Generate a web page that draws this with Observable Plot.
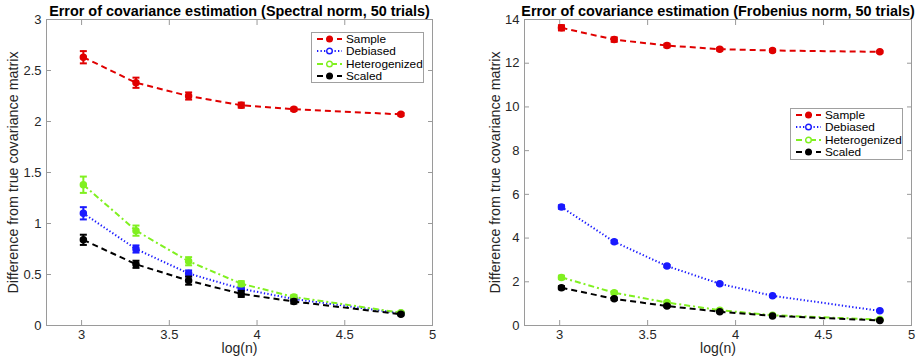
<!DOCTYPE html>
<html>
<head>
<meta charset="utf-8">
<script src="https://cdn.jsdelivr.net/npm/d3@7"></script>
<script src="https://cdn.jsdelivr.net/npm/@observablehq/plot@0.6"></script>
<style>
  html, body { margin: 0; padding: 0; background: #fff; }
  #wrap { position: relative; width: 918px; height: 364px; font-family: "Liberation Sans", Arial, Helvetica, sans-serif; }
  .panel { position: absolute; top: 0; }
  .legend { position: absolute; background: #fff; border: 1px solid #a0a0a0; box-sizing: border-box; padding: 0 0 0 4px; font-size: 11.8px; color: #000; }
  .legend .row { display: flex; align-items: center; height: 12.3px; line-height: 12.3px; white-space: nowrap; }
  .legend svg { width: 27px; height: 12px; margin-right: 3px; flex: none; }
</style>
</head>
<body>
<div id="wrap"></div>
<script>
// ---------- data ----------
const seriesNames = ["Sample", "Debiased", "Heterogenized", "Scaled"];
const logN = [3.01, 3.31, 3.61, 3.91, 4.21, 4.82];
const xTicks = [3, 3.5, 4, 4.5, 5];

// Spectral norm
const spectralSample = [2.63, 2.38, 2.25, 2.16, 2.12, 2.07];
const spectralSampleErr = [0.06, 0.05, 0.035, 0.025, 0.015, 0.012];
const spectralDebiased = [1.10, 0.75, 0.51, 0.36, 0.26, 0.12];
const spectralDebiasedErr = [0.06, 0.035, 0.03, 0.02, 0.015, 0.01];
const spectralHeterogenized = [1.38, 0.93, 0.63, 0.41, 0.28, 0.125];
const spectralHeterogenizedErr = [0.08, 0.05, 0.04, 0.025, 0.02, 0.01];
const spectralScaled = [0.84, 0.60, 0.44, 0.31, 0.235, 0.11];
const spectralScaledErr = [0.05, 0.035, 0.04, 0.03, 0.02, 0.01];
const spectralTicks = [0, 0.5, 1, 1.5, 2, 2.5, 3];

// Frobenius norm
const frobSample = [13.62, 13.08, 12.81, 12.64, 12.58, 12.52];
const frobSampleErr = [0.12, 0.1, 0.08, 0.06, 0.05, 0.04];
const frobDebiased = [5.42, 3.83, 2.72, 1.91, 1.36, 0.67];
const frobDebiasedErr = [0.08, 0.06, 0.05, 0.04, 0.03, 0.02];
const frobHeterogenized = [2.20, 1.50, 1.05, 0.70, 0.47, 0.27];
const frobHeterogenizedErr = [0.08, 0.06, 0.05, 0.04, 0.03, 0.02];
const frobScaled = [1.73, 1.22, 0.89, 0.63, 0.44, 0.23];
const frobScaledErr = [0.07, 0.05, 0.04, 0.03, 0.03, 0.02];
const frobTicks = [0, 2, 4, 6, 8, 10, 12, 14];

// ---------- styles ----------
const styles = {
  Sample:        {color: "#e00000", dash: "6,4",     ring: false},
  Debiased:      {color: "#1a1aff", dash: "1.3,2.2", ring: true},
  Heterogenized: {color: "#80f020", dash: "6,3,2,3", ring: true},
  Scaled:        {color: "#000000", dash: "6,4",     ring: false}
};
const FONT = '"Liberation Sans", Arial, Helvetica, sans-serif';

function rows(values, errs) {
  return logN.map((x, i) => ({x, y: values[i], e: errs[i]}));
}

const capSymbol = {
  draw(ctx, size) {
    const r = Math.sqrt(size / Math.PI);
    ctx.moveTo(-r, 0);
    ctx.lineTo(r, 0);
  }
};

function panel({title, yDomain, yTicks, series, width, marginLeft, marginRight, ylabelDx}) {
  const marks = [Plot.frame({stroke: "#9a9a9a"})];
  // tick labels
  marks.push(Plot.axisX({ticks: xTicks, tickSize: 0, tickPadding: 4, tickFormat: d => String(d), label: null, color: "#262626", fontSize: 13}));
  marks.push(Plot.axisY({ticks: yTicks, tickSize: 0, tickPadding: 5, tickFormat: d => String(d), label: null, color: "#262626", fontSize: 13}));
  // inward ticks on all four sides
  marks.push(Plot.axisX({ticks: xTicks, anchor: "bottom", tickSize: -5, tickFormat: () => "", label: null, color: "#9a9a9a"}));
  marks.push(Plot.axisX({ticks: xTicks, anchor: "top", tickSize: -5, tickFormat: () => "", label: null, color: "#9a9a9a"}));
  marks.push(Plot.axisY({ticks: yTicks, anchor: "left", tickSize: -5, tickFormat: () => "", label: null, color: "#9a9a9a"}));
  marks.push(Plot.axisY({ticks: yTicks, anchor: "right", tickSize: -5, tickFormat: () => "", label: null, color: "#9a9a9a"}));

  for (const s of series) {
    const st = styles[s.name];
    marks.push(Plot.line(s.data, {x: "x", y: "y", stroke: st.color, strokeWidth: 2, strokeDasharray: st.dash, strokeLinecap: "butt"}));
    marks.push(Plot.ruleX(s.data, {x: "x", y1: d => d.y - d.e, y2: d => d.y + d.e, stroke: st.color, strokeWidth: 2}));
    marks.push(Plot.dot(s.data, {x: "x", y: d => d.y + d.e, symbol: capSymbol, r: 3.5, stroke: st.color, strokeWidth: 2}));
    marks.push(Plot.dot(s.data, {x: "x", y: d => d.y - d.e, symbol: capSymbol, r: 3.5, stroke: st.color, strokeWidth: 2}));
    marks.push(Plot.dot(s.data, {x: "x", y: "y", r: 3, stroke: st.color, strokeWidth: 1.5, fill: st.color}));
  }

  marks.push(Plot.text([title], {frameAnchor: "top", dy: -8, lineAnchor: "middle", textAnchor: "middle", fontWeight: "bold", fontSize: 14.4, fill: "#000"}));
  marks.push(Plot.text(["Difference from true covariance matrix"], {frameAnchor: "left", rotate: -90, dx: ylabelDx, lineAnchor: "middle", textAnchor: "middle", fontSize: 14.3, fill: "#262626"}));
  marks.push(Plot.text(["log(n)"], {frameAnchor: "bottom", dy: 23, lineAnchor: "middle", textAnchor: "middle", fontSize: 14, fill: "#262626"}));

  return Plot.plot({
    width, height: 364,
    marginLeft, marginRight, marginTop: 19, marginBottom: 39,
    style: {fontFamily: FONT, fontSize: "13px", background: "white", overflow: "visible"},
    x: {domain: [2.8, 5]},
    y: {domain: yDomain},
    marks
  });
}

const wrap = document.getElementById("wrap");

const left = panel({
  title: "Error of covariance estimation (Spectral norm, 50 trials)",
  yDomain: [0, 3], yTicks: spectralTicks,
  width: 459, marginLeft: 46, marginRight: 27, ylabelDx: -33,
  series: [
    {name: "Sample", data: rows(spectralSample, spectralSampleErr)},
    {name: "Debiased", data: rows(spectralDebiased, spectralDebiasedErr)},
    {name: "Heterogenized", data: rows(spectralHeterogenized, spectralHeterogenizedErr)},
    {name: "Scaled", data: rows(spectralScaled, spectralScaledErr)}
  ]
});
left.classList.add("panel");
left.style.left = "0px";
wrap.appendChild(left);

const right = panel({
  title: "Error of covariance estimation (Frobenius norm, 50 trials)",
  yDomain: [0, 14], yTicks: frobTicks,
  width: 459, marginLeft: 65, marginRight: 7, ylabelDx: -29,
  series: [
    {name: "Sample", data: rows(frobSample, frobSampleErr)},
    {name: "Debiased", data: rows(frobDebiased, frobDebiasedErr)},
    {name: "Heterogenized", data: rows(frobHeterogenized, frobHeterogenizedErr)},
    {name: "Scaled", data: rows(frobScaled, frobScaledErr)}
  ]
});
right.classList.add("panel");
right.style.left = "459px";
wrap.appendChild(right);

// ---------- legends ----------
function legend(leftPx, topPx, w, h) {
  const div = document.createElement("div");
  div.className = "legend";
  Object.assign(div.style, {left: leftPx + "px", top: topPx + "px", width: w + "px", height: h + "px"});
  for (const name of seriesNames) {
    const st = styles[name];
    const row = document.createElement("div");
    row.className = "row";
    const svg = d3.create("svg").attr("viewBox", "0 0 27 12");
    svg.append("line").attr("x1", 1).attr("x2", 26).attr("y1", 6).attr("y2", 6)
      .attr("stroke", st.color).attr("stroke-width", 2).attr("stroke-dasharray", st.dash);
    svg.append("circle").attr("cx", 13.5).attr("cy", 6).attr("r", 2.8)
      .attr("stroke", st.color).attr("stroke-width", 1.4).attr("fill", st.ring ? "white" : st.color);
    row.appendChild(svg.node());
    const span = document.createElement("span");
    span.textContent = name;
    row.appendChild(span);
    div.appendChild(row);
  }
  wrap.appendChild(div);
}
legend(311, 32, 113, 51);
legend(790, 108, 113, 52);
</script>
</body>
</html>
